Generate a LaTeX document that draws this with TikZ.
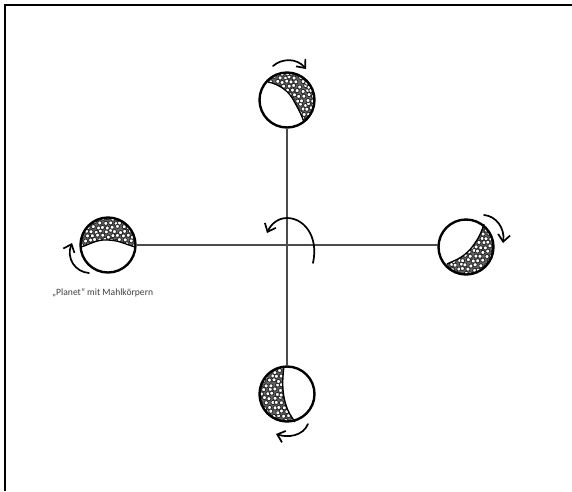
\documentclass[tikz,border=0pt]{standalone}
\usepackage{fontspec}
\setmainfont{Carlito}
\usetikzlibrary{arrows.meta}
\tikzset{
  planet/.style={circle,draw=black,line width=2.4pt,minimum size=55pt,inner sep=0pt,outer sep=1pt},
  spoke/.style={draw=black!70,line width=1.8pt},
  turn/.style={draw=black,line width=1.7pt,line cap=round,-{Straight Barb[length=7pt,width=12pt,line width=1.7pt]}},
  bead/.style={draw=black!85,line width=0.85pt,fill=white}
}
% #1 centre, #2 closed region path
\newcommand{\beadfill}[3]{%
  \begin{scope}
    \clip (#1) circle (28pt);
    \clip #2;
    \fill[black!60] (#1) circle (28pt);
    \pgfmathsetseed{#3}
    \foreach \i in {-8,...,8}{
      \foreach \j in {-8,...,8}{
        \pgfmathsetmacro{\dx}{\i*5.0+mod(\j+8,2)*2.5+rand*1.2}
        \pgfmathsetmacro{\dy}{\j*4.5+rand*1.2}
        \path[bead] ([shift={(\dx pt,\dy pt)}]#1) circle (2.1pt);
      }
    }
  \end{scope}}
\begin{document}
\begin{tikzpicture}[x=1pt,y=-1pt]
\useasboundingbox (0,0) rectangle (572,491);
\fill[white] (0,0) rectangle (572,491);
\draw[black,line width=1.9pt] (5,491) -- (5,5) -- (572,5);
\coordinate (ct) at (287,100);
\coordinate (cl) at (108,245);
\coordinate (cr) at (466,247);
\coordinate (cb) at (287,394);
\beadfill{ct}{(268,82) .. controls (278,84) and (289,90) .. (295,103) .. controls (299,110) and (301,114) .. (304,122) -- (330,122) -- (330,60) -- (262,60) -- cycle}{11}
\beadfill{cl}{(79,248) .. controls (88,245) and (98,239) .. (107,240) .. controls (118,240) and (125,244) .. (137,248) -- (137,210) -- (79,210) -- cycle}{23}
\beadfill{cr}{(447,264) .. controls (455,260) and (465,258) .. (475,243) .. controls (480,236) and (482,230) .. (484,224) -- (500,224) -- (500,280) -- (447,280) -- cycle}{37}
\beadfill{cb}{(284,366) .. controls (283,375) and (281,390) .. (286,405) .. controls (288,412) and (291,416) .. (295,422) -- (250,430) -- (250,360) -- cycle}{41}
\draw[black,line width=1.3pt] (268,82) .. controls (278,84) and (289,90) .. (295,103) .. controls (299,110) and (301,114) .. (304,122);
\draw[black,line width=1.3pt] (81,247) .. controls (88,245) and (98,239) .. (107,240) .. controls (118,240) and (125,244) .. (135,247);
\draw[black,line width=1.3pt] (447,264) .. controls (455,260) and (465,258) .. (475,243) .. controls (480,236) and (482,230) .. (484,224);
\draw[black,line width=1.3pt] (284,366) .. controls (283,375) and (281,390) .. (286,405) .. controls (288,412) and (291,416) .. (295,422);
\node[planet] (top) at (ct) {};
\node[planet] (left) at (cl) {};
\node[planet] (right) at (cr) {};
\node[planet] (bottom) at (cb) {};
\draw[spoke] (top) -- (bottom);
\draw[spoke] (left.east) -- (left.east -| right.west);
\coordinate (a1) at (273,66); \coordinate (a2) at (306,69);
\draw[turn] (a1) .. controls (282,58) and (297,58) .. (a2);
\coordinate (b1) at (89,273); \coordinate (b2) at (72,243);
\draw[turn] (b1) .. controls (75,272) and (66,258) .. (b2);
\coordinate (c1) at (484,215); \coordinate (c2) at (503,243);
\draw[turn] (c1) .. controls (496,216) and (505,228) .. (c2);
\coordinate (d1) at (308,424); \coordinate (d2) at (276,434);
\draw[turn] (d1) .. controls (303,436) and (288,438) .. (d2);
\coordinate (e1) at (313,263); \coordinate (e2) at (267,233);
\draw[turn] (e1) .. controls (319,235) and (303,218) .. (287,218) .. controls (278,218) and (271,224) .. (e2);
\node[font=\fontsize{9.6pt}{11pt}\selectfont,text=black!75,anchor=west,inner sep=0pt] (cap) at (52,293) {„Planet“ mit Mahlkörpern};
\end{tikzpicture}
\end{document}
